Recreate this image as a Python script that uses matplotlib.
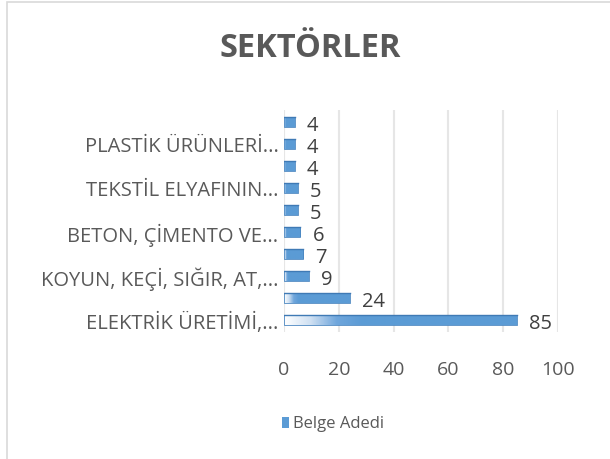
import numpy as np
import matplotlib.pyplot as plt
from matplotlib.colors import LinearSegmentedColormap
from matplotlib.patches import Rectangle

plt.rcParams['font.family'] = ['Open Sans', 'DejaVu Sans']

categories = ['ELEKTRİK ÜRETİMİ,...', '', 'KOYUN, KEÇİ, SIĞIR, AT,...', '',
              'BETON, ÇİMENTO VE...', '', 'TEKSTİL ELYAFININ...', '',
              'PLASTİK ÜRÜNLERİ...', '']
values = [85, 24, 9, 7, 6, 5, 5, 4, 4, 4]
series_name = 'Belge Adedi'

fig = plt.figure(figsize=(6.1, 4.6), dpi=100)
ax = fig.add_axes([0.4656, 0.276, 0.449, 0.483])

# outer frame of the chart area
fig.patches.append(Rectangle((0.0115, -0.01), 1.2, 1.0035, transform=fig.transFigure,
                             fill=False, edgecolor='#d9d9d9', lw=1.2))

cmap = LinearSegmentedColormap.from_list('bar', ['#ffffff', '#cfe0f2', '#6fa6dc', '#5b9bd5', '#5b9bd5'])
h = 0.45
y = np.arange(len(values))
for yi, v in zip(y, values):
    # horizontal gradient, fade length grows with bar length
    frac = min(0.45, 0.2 + v / 250)
    g = np.clip(np.linspace(0, 1, 256) / frac, 0, 1).reshape(1, -1)
    ax.imshow(g, cmap=cmap, aspect='auto', extent=(0, v, yi - h / 2, yi + h / 2),
              vmin=0, vmax=1, zorder=3, interpolation='bilinear')
    ax.add_patch(Rectangle((0, yi - h / 2), v, h, fill=False, edgecolor='#4a86c0', lw=0.6, zorder=4))
    ax.plot([0, v], [yi + h / 2, yi + h / 2], color='#3f7ab5', lw=1.0, zorder=4)
    ax.text(v + 4.4, yi - 0.12, str(v), va='center', ha='left', fontsize=14.5, color='#404040')

ax.set_xlim(0, 100)
ax.set_ylim(-0.55, len(values) - 0.45)
ax.set_xticks(range(0, 101, 20))
ax.set_yticks(y)
ax.set_yticklabels(categories)
ax.tick_params(axis='x', length=0, labelsize=14, labelcolor='#595959', pad=20)
ax.tick_params(axis='y', length=0, labelsize=14.5, labelcolor='#595959', pad=4)
ax.grid(axis='x', color='#e6e6e6', lw=1.5, zorder=0)
for s in ax.spines.values():
    s.set_visible(False)
ax.set_facecolor('none')

fig.text(0.508, 0.895, 'SEKTÖRLER', ha='center', va='center', fontsize=23.5,
         fontweight='bold', color='#595959')

# legend
fig.patches.append(Rectangle((0.462, 0.067), 0.0125, 0.024, transform=fig.transFigure,
                             facecolor='#5b9bd5', edgecolor='none'))
fig.text(0.481, 0.079, series_name, ha='left', va='center', fontsize=12, color='#595959')

fig.savefig('out.png', dpi=100)
